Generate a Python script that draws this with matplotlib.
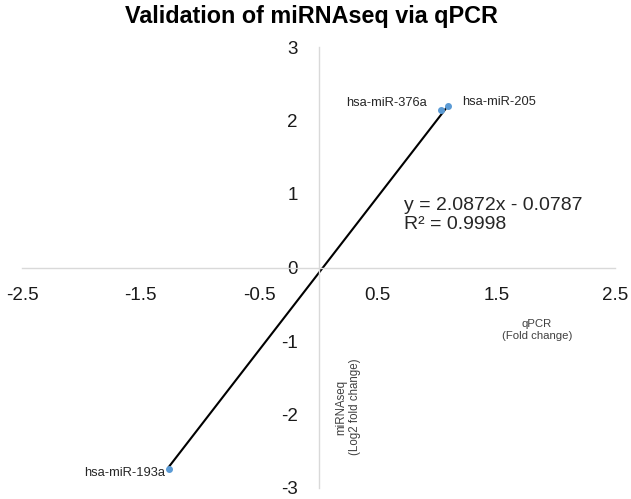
import matplotlib
matplotlib.use("Agg")
import matplotlib.pyplot as plt
import numpy as np

plt.rcParams['font.family'] = ['Liberation Sans', 'DejaVu Sans']

# Data
mirnas = ["hsa-miR-205", "hsa-miR-376a", "hsa-miR-193a"]
qpcr = [1.09, 1.03, -1.26]
mirnaseq = [2.20, 2.14, -2.74]
trend_coef = [2.0872, -0.0787]
r2 = 0.9998
xticks = [-2.5, -1.5, -0.5, 0.5, 1.5, 2.5]
yticks = [-3, -2, -1, 0, 1, 2, 3]

fig = plt.figure(figsize=(6.31, 4.99), dpi=100)
ax = fig.add_axes([22/631, 1-488/499, (615-22)/631, (488-47)/499])
ax.set_xlim(-2.5, 2.5)
ax.set_ylim(-3, 3)

# Trendline
xs = np.array([min(qpcr), max(qpcr)])
ax.plot(xs, np.polyval(trend_coef, xs), color='black', lw=1.5, zorder=2)
ax.plot(qpcr, mirnaseq, 'o', color='#5B9BD5', ms=4, zorder=3)

# Axes through origin
for s in ['top', 'right']:
    ax.spines[s].set_visible(False)
ax.spines['left'].set_position(('data', 0))
ax.spines['bottom'].set_position(('data', 0))
for s in ['left', 'bottom']:
    ax.spines[s].set_color('#d9d9d9')
    ax.spines[s].set_linewidth(1.0)
ax.set_xticks(xticks)
ax.set_xticklabels([f"{v:g}" for v in xticks])
ax.set_yticks(yticks)
ax.set_yticklabels([f"{v:g}" for v in yticks])
ax.tick_params(axis='x', length=0, pad=14, labelsize=13.5, colors='#1a1a1a')
ax.tick_params(axis='y', length=0, pad=15, labelsize=13.5, colors='#1a1a1a')

# Point labels
offs = {"hsa-miR-205": ((10, 3), 'left'),
        "hsa-miR-376a": ((-10, 5), 'right'),
        "hsa-miR-193a": ((-3, -3), 'right')}
for name, x, y in zip(mirnas, qpcr, mirnaseq):
    (dx, dy), ha = offs[name]
    ax.annotate(name, (x, y), xytext=(dx, dy), textcoords='offset points',
                ha=ha, va='center', fontsize=9.3, color='#262626')

# Equation
ax.text(0.72, 0.85, f"y = {trend_coef[0]}x - {abs(trend_coef[1])}", fontsize=14,
        ha='left', va='center', color='#262626')
ax.text(0.72, 0.58, f"R² = {r2}", fontsize=14, ha='left', va='center', color='#262626')

# Axis titles
ax.text(1.842, -0.85, "qPCR\n(Fold change)", fontsize=8.2, ha='center', va='center',
        multialignment='center', color='#404040')
ax.text(0.249, -1.90, "miRNAseq\n(Log2 fold change)", fontsize=8.3, ha='center', va='center',
        rotation=90, multialignment='center', color='#404040')

fig.text(311.5/631, 1-16/499, "Validation of miRNAseq via qPCR", fontsize=16.8,
         fontweight='bold', ha='center', va='center')

fig.savefig("out.png", dpi=100, facecolor='white')
